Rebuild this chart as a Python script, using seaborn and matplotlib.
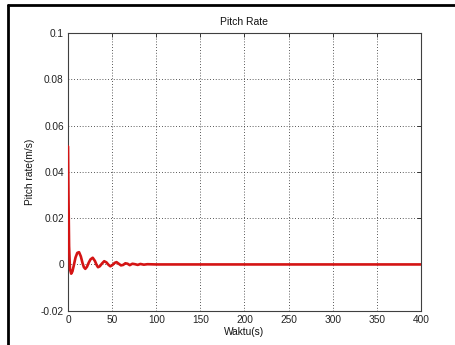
import matplotlib
matplotlib.use("Agg")
import matplotlib.pyplot as plt
from matplotlib.lines import Line2D
import seaborn as sns
import pandas as pd

# Pitch rate response (time in seconds, rate in m/s)
waktu = [0, 0.5, 1.2, 2.2, 3.6, 5.0, 6.5, 8.5, 10.5, 12.5, 14.5, 16.5, 18.0, 19.6, 21.5,
         23.5, 25.5, 28.0, 30.5, 32.5, 34.0, 36.0, 38.5, 41.0, 43.5, 46.0, 48.0, 50.5,
         53.0, 55.0, 57.5, 60.0, 62.5, 65.0, 67.5, 70.0, 73.0, 76.0, 79.0, 82.0, 86.0,
         90.0, 100.0, 150.0, 200.0, 250.0, 300.0, 350.0, 400.0]
pitch_rate = [0.051, 0.030, 0.008, -0.002, -0.0040, -0.0030, -0.0005, 0.0030, 0.0050,
              0.0053, 0.0035, 0.0005, -0.0012, -0.0019, -0.0010, 0.0008, 0.0022, 0.0029,
              0.0015, -0.0003, -0.0012, -0.0008, 0.0004, 0.0014, 0.0009, -0.0002, -0.0008,
              -0.0002, 0.0007, 0.0010, 0.0003, -0.0004, -0.0002, 0.0005, 0.0003, -0.0003,
              0.0003, 0.0001, -0.0002, 0.0002, -0.0001, 0.0001, 0.0, 0.0, 0.0, 0.0, 0.0,
              0.0, 0.0]

x_ticks = [0, 50, 100, 150, 200, 250, 300, 350, 400]
y_ticks = [-0.02, 0, 0.02, 0.04, 0.06, 0.08, 0.1]
y_tick_labels = ["-0.02", "0", "0.02", "0.04", "0.06", "0.08", "0.1"]

sns.set_style("white")
plt.rcParams["font.family"] = ["Liberation Sans", "DejaVu Sans"]

df = pd.DataFrame({"Waktu(s)": waktu, "Pitch rate(m/s)": pitch_rate})

fig = plt.figure(figsize=(4.55, 3.45), dpi=100)
ax = fig.add_axes([0.1495, 0.0994, 0.7755, 0.8046])

sns.lineplot(data=df, x="Waktu(s)", y="Pitch rate(m/s)", ax=ax,
             color="#d41414", linewidth=1.9, zorder=3)

ax.set_xlim(0, 400)
ax.set_ylim(-0.02, 0.1)
ax.set_xticks(x_ticks)
ax.set_xticklabels([str(v) for v in x_ticks])
ax.set_yticks(y_ticks)
ax.set_yticklabels(y_tick_labels)

ax.grid(True, color="#222222", linestyle=(0, (1, 2.4)), linewidth=0.6)
ax.tick_params(direction="in", length=3, width=0.7, colors="#333333",
               labelsize=7.3, top=True, right=True, pad=3,
               labelcolor="#222222")
for side in ax.spines.values():
    side.set_color("#404040")
    side.set_linewidth(0.8)

ax.set_title("Pitch Rate", fontsize=7.5, color="#111111", pad=6)
ax.set_xlabel("Waktu(s)", fontsize=7.3, color="#111111", labelpad=1.5)
ax.set_ylabel("Pitch rate(m/s)", fontsize=7.3, color="#111111", labelpad=4)

# frame edges along the top and left of the figure
fig.add_artist(Line2D([8 / 455, 1.0], [1 - 5 / 345, 1 - 5 / 345],
                      transform=fig.transFigure, color="black", linewidth=2.0))
fig.add_artist(Line2D([8 / 455, 8 / 455], [0.0, 1 - 5 / 345],
                      transform=fig.transFigure, color="black", linewidth=2.0))

fig.savefig("out.png", dpi=100, facecolor="white")
